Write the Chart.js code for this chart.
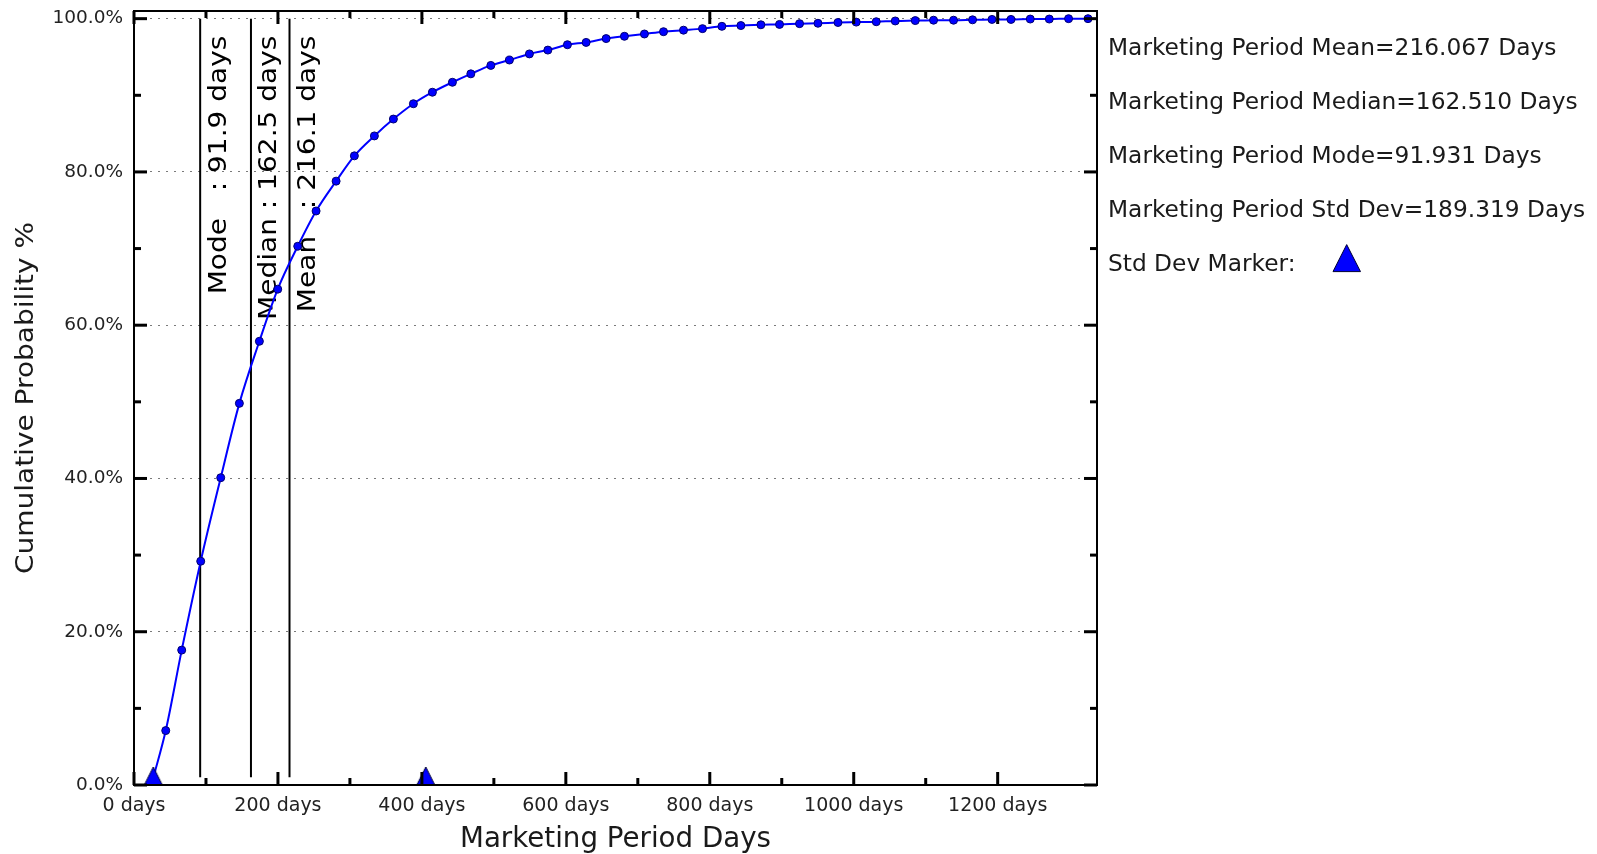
<!DOCTYPE html>
<html>
<head>
<meta charset="utf-8">
<title>Marketing Period Cumulative Probability</title>
<script src="https://cdn.jsdelivr.net/npm/chart.js@4.4.1/dist/chart.umd.min.js"></script>
<style>
  html, body { margin: 0; padding: 0; background: #ffffff; }
  #wrap { width: 1597px; height: 854px; position: relative; }
</style>
</head>
<body>
<div id="wrap"><canvas id="chart" width="1597" height="854"></canvas></div>
<script>
// Cumulative probability curve: marketing period (days) vs cumulative %
const DAYS = [26.7, 44.1, 66.3, 92.7, 120.5, 146.4, 174.2, 199.7, 227.5, 253.0,
  280.8, 306.2, 334.0, 360.4, 388.2, 414.6, 442.4, 468.0, 495.8, 521.6,
  549.4, 575.0, 602.2, 628.2, 656.0, 681.4, 709.2, 735.7, 763.5, 789.9,
  816.8, 843.2, 871.0, 896.9, 924.7, 950.3, 978.1, 1003.5, 1031.3, 1057.7,
  1085.5, 1110.9, 1138.7, 1165.1, 1192.1, 1218.5, 1245.3, 1271.7, 1298.5, 1325.5];
const CUM_PCT = [0.9, 7.1, 17.6, 29.2, 40.1, 49.8, 57.9, 64.7, 70.3, 74.9,
  78.8, 82.1, 84.7, 86.9, 88.9, 90.4, 91.7, 92.8, 93.9, 94.6,
  95.4, 95.9, 96.6, 96.9, 97.4, 97.7, 98.0, 98.3, 98.5, 98.7,
  99.0, 99.1, 99.2, 99.25, 99.35, 99.4, 99.5, 99.55, 99.6, 99.7,
  99.75, 99.8, 99.8, 99.85, 99.9, 99.9, 99.95, 99.95, 100, 100];

// Summary statistics (days)
const STAT_NAMES = ['Mode', 'Median', 'Mean'];
const STAT_DAYS = [91.931, 162.510, 216.067];
const STD_DEV = 189.319;
const MEAN = STAT_DAYS[2];
const SD_MARKERS = [MEAN - STD_DEV, MEAN + STD_DEV];

// Axis ticks
const X_TICKS = [0, 200, 400, 600, 800, 1000, 1200];
const X_MINOR = [100, 300, 500, 700, 900, 1100];
const Y_TICKS = [0, 20, 40, 60, 80, 100];
const Y_MINOR = [10, 30, 50, 70, 90];

const SUMMARY_LINES = [
  'Marketing Period Mean=' + STAT_DAYS[2].toFixed(3) + ' Days',
  'Marketing Period Median=' + STAT_DAYS[1].toFixed(3) + ' Days',
  'Marketing Period Mode=' + STAT_DAYS[0].toFixed(3) + ' Days',
  'Marketing Period Std Dev=' + STD_DEV.toFixed(3) + ' Days'
];

const FONT = '"DejaVu Sans", "Noto Sans", sans-serif';

// Std dev marker: triangle whose base sits on the point
function makeTriangle(w, h) {
  const c = document.createElement('canvas');
  c.width = w + 2; c.height = 2 * h + 2;
  const g = c.getContext('2d');
  const cx = c.width / 2, base = c.height / 2;
  g.beginPath();
  g.moveTo(cx, base - h);
  g.lineTo(cx + w / 2, base);
  g.lineTo(cx - w / 2, base);
  g.closePath();
  g.fillStyle = '#0000ff';
  g.fill();
  g.lineWidth = 1;
  g.strokeStyle = '#000033';
  g.stroke();
  return c;
}
const TRI = makeTriangle(18, 18);

function drawRotatedText(ctx, text, x, y, align, font, stretch) {
  ctx.save();
  ctx.translate(x, y);
  ctx.rotate(-Math.PI / 2);
  ctx.scale(stretch, 1);
  ctx.font = font;
  ctx.textAlign = align;
  ctx.textBaseline = 'alphabetic';
  ctx.fillText(text, 0, 0);
  ctx.restore();
}

const decorations = {
  id: 'decorations',
  beforeDatasetsDraw(chart) {
    const { ctx, scales: { x, y } } = chart;
    ctx.save();
    ctx.fillStyle = '#000';
    const top = y.getPixelForValue(100) + 17;
    STAT_DAYS.forEach((d, i) => {
      const px = x.getPixelForValue(d);
      const txt = STAT_NAMES[i].padEnd(6, ' ') + ' : ' + d.toFixed(1) + ' days';
      drawRotatedText(ctx, txt, px + 25.5, top, 'right', '25px ' + FONT, 1.12);
    });
    ctx.restore();
  },
  afterDatasetsDraw(chart) {
    const { ctx, chartArea: { left: L, right: R, top: T, bottom: B }, scales: { x, y } } = chart;
    ctx.save();
    ctx.strokeStyle = '#000';
    ctx.lineCap = 'butt';
    ctx.lineWidth = 3;
    const seg = (x1, y1, x2, y2) => { ctx.beginPath(); ctx.moveTo(x1, y1); ctx.lineTo(x2, y2); ctx.stroke(); };
    X_TICKS.forEach(v => { const p = x.getPixelForValue(v); seg(p, B, p, B - 13); seg(p, T, p, T + 13); });
    X_MINOR.forEach(v => { const p = x.getPixelForValue(v); seg(p, B, p, B - 7); seg(p, T, p, T + 7); });
    Y_TICKS.forEach(v => { const p = y.getPixelForValue(v); seg(L, p, L + 13, p); seg(R, p, R - 13, p); });
    Y_MINOR.forEach(v => { const p = y.getPixelForValue(v); seg(L, p, L + 7, p); seg(R, p, R - 7, p); });
    ctx.lineWidth = 2;
    ctx.strokeRect(L, T, R - L, B - T);
    ctx.restore();
  },
  afterDraw(chart) {
    const { ctx, chartArea: { left: L, right: R, top: T, bottom: B } } = chart;
    ctx.save();
    ctx.fillStyle = '#1a1a1a';
    // axis titles
    ctx.font = '27.7px ' + FONT;
    ctx.textAlign = 'center';
    ctx.textBaseline = 'alphabetic';
    ctx.fillText('Marketing Period Days', (L + R) / 2, 847);
    drawRotatedText(ctx, 'Cumulative Probability %', 33, (T + B) / 2, 'center', '25px ' + FONT, 1.12);
    // summary block
    ctx.font = '23.3px ' + FONT;
    ctx.textAlign = 'left';
    const tx = R + 11;
    SUMMARY_LINES.forEach((s, i) => ctx.fillText(s, tx, 55 + i * 53.9));
    const legY = 55 + 4 * 53.9;
    ctx.fillText('Std Dev Marker:', tx, legY);
    ctx.beginPath();
    ctx.moveTo(1346.7, legY - 26);
    ctx.lineTo(1360.5, legY + 1);
    ctx.lineTo(1333, legY + 1);
    ctx.closePath();
    ctx.fillStyle = '#0000ff';
    ctx.fill();
    ctx.lineWidth = 1;
    ctx.strokeStyle = '#000033';
    ctx.stroke();
    ctx.restore();
  }
};

const curve = DAYS.map((d, i) => ({ x: d, y: CUM_PCT[i] }));

new Chart(document.getElementById('chart'), {
  type: 'line',
  data: {
    datasets: [
      {
        label: 'Cumulative Probability',
        data: curve,
        borderColor: '#0000ff',
        borderWidth: 2,
        pointRadius: 4,
        pointBackgroundColor: '#0000ff',
        pointBorderColor: '#00006e',
        pointBorderWidth: 1,
        cubicInterpolationMode: 'monotone',
        order: 1
      },
      ...STAT_DAYS.map((d, i) => ({
        label: STAT_NAMES[i],
        data: [{ x: d, y: 1 }, { x: d, y: 100 }],
        borderColor: '#000000',
        borderWidth: 2,
        pointRadius: 0,
        tension: 0,
        order: 3
      })),
      {
        label: 'Std Dev Marker',
        data: SD_MARKERS.map(d => ({ x: d, y: 0 })),
        showLine: false,
        pointStyle: TRI,
        pointRadius: 10,
        clip: false,
        order: 0
      }
    ]
  },
  options: {
    responsive: false,
    animation: false,
    events: [],
    layout: { padding: { left: 0, top: 11, right: 500, bottom: 0 } },
    plugins: { legend: { display: false }, tooltip: { enabled: false } },
    scales: {
      x: {
        type: 'linear',
        min: 0,
        max: 1338,
        afterBuildTicks: s => { s.ticks = X_TICKS.map(v => ({ value: v })); },
        afterFit: s => { s.height = 69; s.paddingLeft = 0; s.paddingRight = 0; },
        grid: { display: false, drawTicks: false },
        border: { display: false },
        ticks: {
          autoSkip: false, maxRotation: 0, padding: 10, color: '#222',
          font: { family: FONT, size: 19 },
          callback: v => v + ' days'
        }
      },
      y: {
        type: 'linear',
        min: 0,
        max: 101,
        afterBuildTicks: s => { s.ticks = Y_TICKS.map(v => ({ value: v })); },
        afterFit: s => { s.width = 134; s.paddingTop = 0; s.paddingBottom = 0; },
        grid: { color: '#7a7a7a', lineWidth: 1, drawTicks: false },
        border: { display: false, dash: [2, 6] },
        ticks: {
          padding: 11, color: '#222',
          font: { family: FONT, size: 18.5 },
          callback: v => v.toFixed(1) + '%'
        }
      }
    }
  },
  plugins: [decorations]
});
</script>
</body>
</html>
